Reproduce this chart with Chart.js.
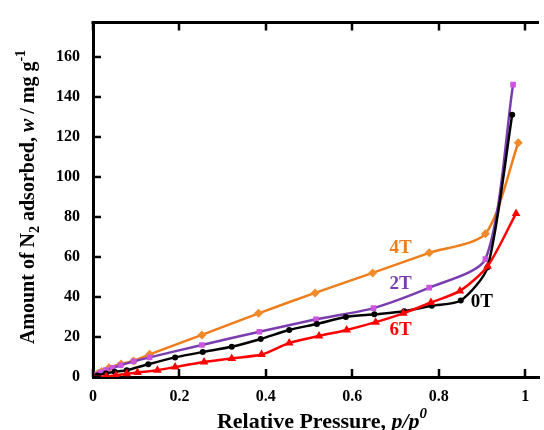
<!doctype html>
<html lang="en">
  <head>
    <meta charset="UTF-8" />
    <title>N2 Adsorption Isotherms</title>
    <script src="https://cdn.jsdelivr.net/npm/chart.js"></script>
    <style>
      html, body { margin: 0; padding: 0; background: #fff; }
      #wrap { width: 544px; height: 430px; position: relative; }
    </style>
  </head>
  <body>
    <div id="wrap">
      <canvas id="isoChart" width="544" height="430"></canvas>
    </div>

    <script>
      // relative pressure / amount adsorbed
      const p4T = [0, 0.01, 0.02, 0.037, 0.065, 0.094, 0.131, 0.252, 0.383, 0.514, 0.647, 0.778, 0.908, 0.984];
      const w4T = [0, 1.5, 2.8, 4.6, 6.5, 8.0, 11.3, 21.0, 31.8, 42.0, 52.0, 62.0, 71.5, 117];

      const p2T = [0, 0.008, 0.017, 0.03, 0.045, 0.064, 0.094, 0.131, 0.252, 0.385, 0.516, 0.649, 0.778, 0.908, 0.972];
      const w2T = [0, 1.2, 2.3, 3.5, 4.6, 5.9, 7.8, 9.8, 16.0, 22.6, 28.8, 34.4, 44.6, 58.9, 146];

      const p0T = [0, 0.01, 0.03, 0.05, 0.078, 0.128, 0.19, 0.254, 0.321, 0.388, 0.454, 0.518, 0.585, 0.651, 0.72, 0.784, 0.851, 0.913, 0.97];
      const w0T = [0, 0.8, 1.8, 2.6, 3.4, 6.4, 9.8, 12.5, 15.1, 19.0, 23.5, 26.5, 30.0, 31.3, 32.8, 35.6, 38.2, 54.8, 131];

      const p6T = [0, 0.03, 0.053, 0.078, 0.103, 0.149, 0.19, 0.257, 0.321, 0.39, 0.454, 0.523, 0.587, 0.654, 0.718, 0.782, 0.849, 0.913, 0.979];
      const w6T = [0, 0.3, 0.8, 1.6, 2.2, 3.4, 5.0, 7.5, 9.3, 11.2, 17, 20.5, 23.5, 27.4, 31.8, 37.2, 43, 55.3, 81.7];

      const xTicks = [0, 0.2, 0.4, 0.6, 0.8, 1];
      const yTicks = [0, 20, 40, 60, 80, 100, 120, 140, 160];

      // curve labels: [text, x, y, colour]
      const curveLabels = [
        ["4T", 0.712, 64.5, "#EE7D1C"],
        ["2T", 0.712, 46.5, "#7A3DB0"],
        ["6T", 0.712, 23.5, "#FF0000"],
        ["0T", 0.900, 37.5, "#000000"],
      ];

      const serif = "'Liberation Serif', 'Times New Roman', serif";

      function pts(xs, ys) {
        return xs.map((x, i) => ({ x: x, y: ys[i] }));
      }

      // inward tick marks, top frame line, axis titles and curve labels
      const decorations = {
        id: "decorations",
        afterDatasetsDraw(chart) {
          const ctx = chart.ctx;
          const xs = chart.scales.x;
          const ys = chart.scales.y;
          const area = chart.chartArea;
          ctx.save();
          ctx.strokeStyle = "#000";
          ctx.lineWidth = 3;
          ctx.beginPath();
          ctx.moveTo(area.left - 1.5, area.top);
          ctx.lineTo(area.right, area.top);
          ctx.stroke();

          ctx.lineWidth = 2.5;
          ctx.beginPath();
          xTicks.forEach((v) => {
            const px = Math.round(xs.getPixelForValue(v));
            ctx.moveTo(px, area.bottom);
            ctx.lineTo(px, area.bottom - 8);
            ctx.moveTo(px, area.top);
            ctx.lineTo(px, area.top + 8);
          });
          yTicks.forEach((v) => {
            const py = Math.round(ys.getPixelForValue(v));
            ctx.moveTo(area.left, py);
            ctx.lineTo(area.left + 8, py);
          });
          ctx.stroke();

          ctx.font = "bold 19px " + serif;
          ctx.textAlign = "center";
          ctx.textBaseline = "middle";
          curveLabels.forEach(([t, x, y, c]) => {
            ctx.fillStyle = c;
            ctx.fillText(t, xs.getPixelForValue(x), ys.getPixelForValue(y));
          });
          ctx.restore();
        },
        afterDraw(chart) {
          const ctx = chart.ctx;
          ctx.save();
          ctx.fillStyle = "#000";
          ctx.textBaseline = "alphabetic";
          ctx.textAlign = "left";

          // x title
          const xParts = [
            ["Relative Pressure, ", "bold 22px " + serif, 0],
            ["p/p", "italic bold 22px " + serif, 0],
            ["0", "italic bold 15px " + serif, -10],
          ];
          let total = 0;
          xParts.forEach(([t, f]) => { ctx.font = f; total += ctx.measureText(t).width; });
          let cx = 322 - total / 2;
          xParts.forEach(([t, f, dy]) => {
            ctx.font = f;
            ctx.fillText(t, cx, 428 + dy);
            cx += ctx.measureText(t).width;
          });

          // y title, rotated
          const yParts = [
            ["Amount of N", "bold 20px " + serif, 0],
            ["2", "bold 14px " + serif, 5],
            [" adsorbed, ", "bold 20px " + serif, 0],
            ["w", "italic bold 20px " + serif, 0],
            [" / mg g", "bold 20px " + serif, 0],
            ["-1", "bold 14px " + serif, -9],
          ];
          total = 0;
          yParts.forEach(([t, f]) => { ctx.font = f; total += ctx.measureText(t).width; });
          ctx.translate(34, 197);
          ctx.rotate(-Math.PI / 2);
          cx = -total / 2;
          yParts.forEach(([t, f, dy]) => {
            ctx.font = f;
            ctx.fillText(t, cx, dy);
            cx += ctx.measureText(t).width;
          });
          ctx.restore();
        },
      };

      const ctx = document.getElementById("isoChart").getContext("2d");

      const common = {
        borderWidth: 2.5,
        fill: false,
        tension: 0.25,
        pointBorderWidth: 0,
      };

      new Chart(ctx, {
        type: "line",
        data: {
          datasets: [
            {
              ...common,
              label: "6T",
              data: pts(p6T, w6T),
              borderColor: "#FF0000",
              pointBackgroundColor: "#FF0000",
              pointStyle: "triangle",
              pointRadius: 5,
            },
            {
              ...common,
              label: "0T",
              data: pts(p0T, w0T),
              borderColor: "#000000",
              pointBackgroundColor: "#000000",
              pointStyle: "circle",
              pointRadius: 3,
            },
            {
              ...common,
              label: "2T",
              data: pts(p2T, w2T),
              borderColor: "#7A3DB0",
              pointBackgroundColor: "#CC55DD",
              pointStyle: "rect",
              pointRadius: 4,
            },
            {
              ...common,
              label: "4T",
              data: pts(p4T, w4T),
              borderColor: "#EE7D1C",
              pointBackgroundColor: "#F08A2A",
              pointStyle: "rectRot",
              pointRadius: 4.5,
            },
          ],
        },
        options: {
          responsive: false,
          animation: false,
          layout: { padding: { top: 15, left: 0, right: 0, bottom: 0 } },
          scales: {
            x: {
              type: "linear",
              min: 0,
              max: 1.032,
              afterBuildTicks: (s) => { s.ticks = xTicks.map((v) => ({ value: v })); },
              afterFit: (s) => { s.height = 53; },
              grid: { display: false, drawTicks: false },
              border: { display: true, color: "#000", width: 3 },
              ticks: {
                padding: 10,
                color: "#000",
                font: { family: serif, size: 16, weight: "bold" },
                maxRotation: 0,
                callback: (v) => String(v),
              },
            },
            y: {
              type: "linear",
              min: 0,
              max: 177,
              afterBuildTicks: (s) => { s.ticks = yTicks.map((v) => ({ value: v })); },
              afterFit: (s) => { s.width = 93; },
              grid: { display: false, drawTicks: false },
              border: { display: true, color: "#000", width: 3 },
              ticks: {
                padding: 13,
                color: "#000",
                font: { family: serif, size: 16, weight: "bold" },
                callback: (v) => String(v),
              },
            },
          },
          plugins: {
            legend: { display: false },
            tooltip: { enabled: false },
          },
        },
        plugins: [decorations],
      });
    </script>
  </body>
</html>
